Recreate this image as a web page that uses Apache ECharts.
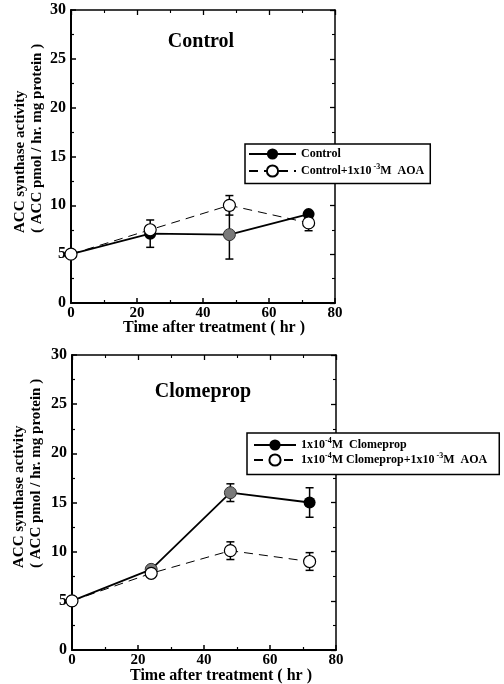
<!DOCTYPE html>
<html>
<head>
<meta charset="utf-8">
<script src="https://cdn.jsdelivr.net/npm/echarts@6/dist/echarts.min.js"></script>
<style>
  html, body { margin: 0; padding: 0; background: #fff; }
  #chart { width: 504px; height: 684px; }
</style>
</head>
<body>
<div id="chart"></div>
<script>
// Sampling times (hours after treatment)
const hours = [0, 24, 48, 72];

// Axis ranges
const xMin = 0, xMax = 80, xStep = 20;
const yMin = 0, yMax = 30, yStep = 5;

// Upper panel: control plants
const controlMean = [5.0, 7.1, 7.0, 9.1];
const controlErr = [0, 1.4, 2.5, 0];
const controlAoaMean = [5.0, 7.5, 10.0, 8.2];
const controlAoaErr = [0, 0, 1.0, 0.8];

// Lower panel: clomeprop-treated plants
const clomepropMean = [5.0, 8.2, 16.0, 15.0];
const clomepropErr = [0, 0, 0.9, 1.5];
const clomepropAoaMean = [5.0, 7.8, 10.1, 9.0];
const clomepropAoaErr = [0, 0, 0.9, 0.9];

// Series names
const NAME_CTRL = 'Control';
const NAME_CTRL_AOA = 'Control+1x10-3M AOA';
const NAME_CLO = '1x10-4M Clomeprop';
const NAME_CLO_AOA = '1x10-4M Clomeprop+1x10-3M AOA';

const FONT = '"Liberation Serif", "Times New Roman", serif';

const legendRich = {
  a: { fontFamily: FONT, fontWeight: 'bold', fontSize: 12, color: '#000', lineHeight: 16 },
  s: { fontFamily: FONT, fontWeight: 'bold', fontSize: 8, color: '#000', lineHeight: 16, verticalAlign: 'top', padding: [0, 0, 6, 0] }
};
const legendLabels = {};
legendLabels[NAME_CTRL] = '{a|Control}';
legendLabels[NAME_CTRL_AOA] = '{a|Control+1x10}{s| -3}{a|M  AOA}';
legendLabels[NAME_CLO] = '{a|1x10}{s|-4}{a|M  Clomeprop}';
legendLabels[NAME_CLO_AOA] = '{a|1x10}{s|-4}{a|M Clomeprop+1x10}{s| -3}{a|M  AOA}';

function xAxisMain(gridIndex, labelMargin) {
  return {
    type: 'value', gridIndex, position: 'bottom',
    min: xMin, max: xMax, interval: xStep,
    axisLine: { onZero: false, lineStyle: { color: '#000', width: 2 } },
    axisTick: { inside: true, length: 5, lineStyle: { color: '#000', width: 1.5 } },
    minorTick: { show: true, splitNumber: 2, length: 3, lineStyle: { color: '#000', width: 1.2 } },
    splitLine: { show: false }, minorSplitLine: { show: false },
    axisLabel: { margin: labelMargin, color: '#000', fontFamily: FONT, fontWeight: 'bold', fontSize: 15 }
  };
}
function xAxisMirror(gridIndex) {
  return {
    type: 'value', gridIndex, position: 'top',
    min: xMin, max: xMax, interval: xStep,
    axisLine: { onZero: false, lineStyle: { color: '#000', width: 1.5 } },
    axisTick: { inside: true, length: 5, lineStyle: { color: '#000', width: 1.3 } },
    minorTick: { show: true, splitNumber: 2, length: 3, lineStyle: { color: '#000', width: 1.1 } },
    splitLine: { show: false }, axisLabel: { show: false }
  };
}
function yAxisMain(gridIndex) {
  return {
    type: 'value', gridIndex, position: 'left',
    min: yMin, max: yMax, interval: yStep,
    axisLine: { onZero: false, lineStyle: { color: '#000', width: 2 } },
    axisTick: { inside: true, length: 5, lineStyle: { color: '#000', width: 1.5 } },
    minorTick: { show: true, splitNumber: 2, length: 3, lineStyle: { color: '#000', width: 1.2 } },
    splitLine: { show: false }, minorSplitLine: { show: false },
    axisLabel: { margin: 5, color: '#000', fontFamily: FONT, fontWeight: 'bold', fontSize: 16 }
  };
}
function yAxisMirror(gridIndex) {
  return {
    type: 'value', gridIndex, position: 'right',
    min: yMin, max: yMax, interval: yStep,
    axisLine: { onZero: false, lineStyle: { color: '#000', width: 1.5 } },
    axisTick: { inside: true, length: 5, lineStyle: { color: '#000', width: 1.3 } },
    minorTick: { show: true, splitNumber: 2, length: 3, lineStyle: { color: '#000', width: 1.1 } },
    splitLine: { show: false }, axisLabel: { show: false }
  };
}

function points(mean, greyIdx) {
  return hours.map((t, i) => {
    const d = { value: [t, mean[i]] };
    if (greyIdx.indexOf(i) >= 0) d.itemStyle = { color: '#7a7a7a', borderColor: '#333', borderWidth: 1 };
    return d;
  });
}

function filledSeries(name, mean, axisIdx, greyIdx) {
  return {
    name, type: 'line', xAxisIndex: axisIdx, yAxisIndex: axisIdx,
    data: points(mean, greyIdx),
    symbol: 'circle', symbolSize: 12,
    itemStyle: { color: '#000' },
    lineStyle: { color: '#000', width: 1.8 },
    z: 3
  };
}
function openSeries(name, mean, axisIdx) {
  return {
    name, type: 'line', xAxisIndex: axisIdx, yAxisIndex: axisIdx,
    data: points(mean, []),
    symbol: 'circle', symbolSize: 12,
    itemStyle: { color: '#fff', borderColor: '#000', borderWidth: 1.2 },
    lineStyle: { color: '#000', width: 1, type: [9, 6] },
    z: 4
  };
}
function errorSeries(mean, err, axisIdx) {
  return {
    type: 'custom', xAxisIndex: axisIdx, yAxisIndex: axisIdx, z: 2, silent: true,
    data: hours.map((t, i) => [t, mean[i] - err[i], mean[i] + err[i]]).filter(d => d[2] > d[1]),
    renderItem: function (params, api) {
      const x = api.value(0);
      const lo = api.coord([x, api.value(1)]);
      const hi = api.coord([x, api.value(2)]);
      const w = 4;
      const st = { stroke: '#000', lineWidth: 1.5 };
      return {
        type: 'group',
        children: [
          { type: 'line', shape: { x1: lo[0], y1: lo[1], x2: hi[0], y2: hi[1] }, style: st },
          { type: 'line', shape: { x1: lo[0] - w, y1: lo[1], x2: lo[0] + w, y2: lo[1] }, style: st },
          { type: 'line', shape: { x1: hi[0] - w, y1: hi[1], x2: hi[0] + w, y2: hi[1] }, style: st }
        ]
      };
    }
  };
}

function legendBox(names, left, top, itemWidth, itemHeight, itemGap, padding) {
  return {
    data: names, orient: 'vertical', left, top,
    itemWidth, itemHeight, itemGap, padding,
    borderColor: '#000', borderWidth: 1.5, borderRadius: 0, backgroundColor: '#fff',
    selectedMode: false, z: 10,
    formatter: name => legendLabels[name],
    textStyle: { rich: legendRich }
  };
}

function axisTitle(text, x, y, rotated, size) {
  return {
    type: 'text', x, y, rotation: rotated ? Math.PI / 2 : 0, z: 20,
    style: {
      text, fill: '#000', font: 'bold ' + size + 'px ' + FONT,
      align: rotated ? 'left' : 'center', verticalAlign: 'middle', lineHeight: 17
    }
  };
}
function panelTitle(text, x, y) {
  return {
    type: 'text', x, y, z: 20,
    style: { text, fill: '#000', font: 'bold 20px ' + FONT, align: 'center', verticalAlign: 'middle' }
  };
}

const yTitle = 'ACC synthase activity\n( ACC pmol / hr. mg protein )';
const xTitle = 'Time after treatment ( hr )';

const option = {
  animation: false,
  backgroundColor: '#fff',
  grid: [
    { left: 71, top: 10, width: 264, height: 293 },
    { left: 72, top: 355, width: 264, height: 295 }
  ],
  xAxis: [xAxisMain(0, 3), xAxisMain(1, 3), xAxisMirror(0), xAxisMirror(1)],
  yAxis: [yAxisMain(0), yAxisMain(1), yAxisMirror(0), yAxisMirror(1)],
  legend: [
    legendBox([NAME_CTRL, NAME_CTRL_AOA], 245, 144, 47, 14, 3, [4, 6, 6, 3]),
    legendBox([NAME_CLO, NAME_CLO_AOA], 247, 433, 42, 14, 1, [4, 12, 8, 6])
  ],
  graphic: [
    panelTitle('Control', 201, 42),
    panelTitle('Clomeprop', 203, 392),
    axisTitle(yTitle, 29, 233, true, 15),
    axisTitle(yTitle, 28, 568, true, 15),
    axisTitle(xTitle, 214, 328, false, 16),
    axisTitle(xTitle, 221, 676, false, 16)
  ],
  series: [
    errorSeries(controlMean, controlErr, 0),
    errorSeries(controlAoaMean, controlAoaErr, 0),
    filledSeries(NAME_CTRL, controlMean, 0, [2]),
    openSeries(NAME_CTRL_AOA, controlAoaMean, 0),
    errorSeries(clomepropMean, clomepropErr, 1),
    errorSeries(clomepropAoaMean, clomepropAoaErr, 1),
    filledSeries(NAME_CLO, clomepropMean, 1, [1, 2]),
    openSeries(NAME_CLO_AOA, clomepropAoaMean, 1)
  ]
};

const chart = echarts.init(document.getElementById('chart'), null, { renderer: 'canvas' });
chart.setOption(option);
</script>
</body>
</html>
